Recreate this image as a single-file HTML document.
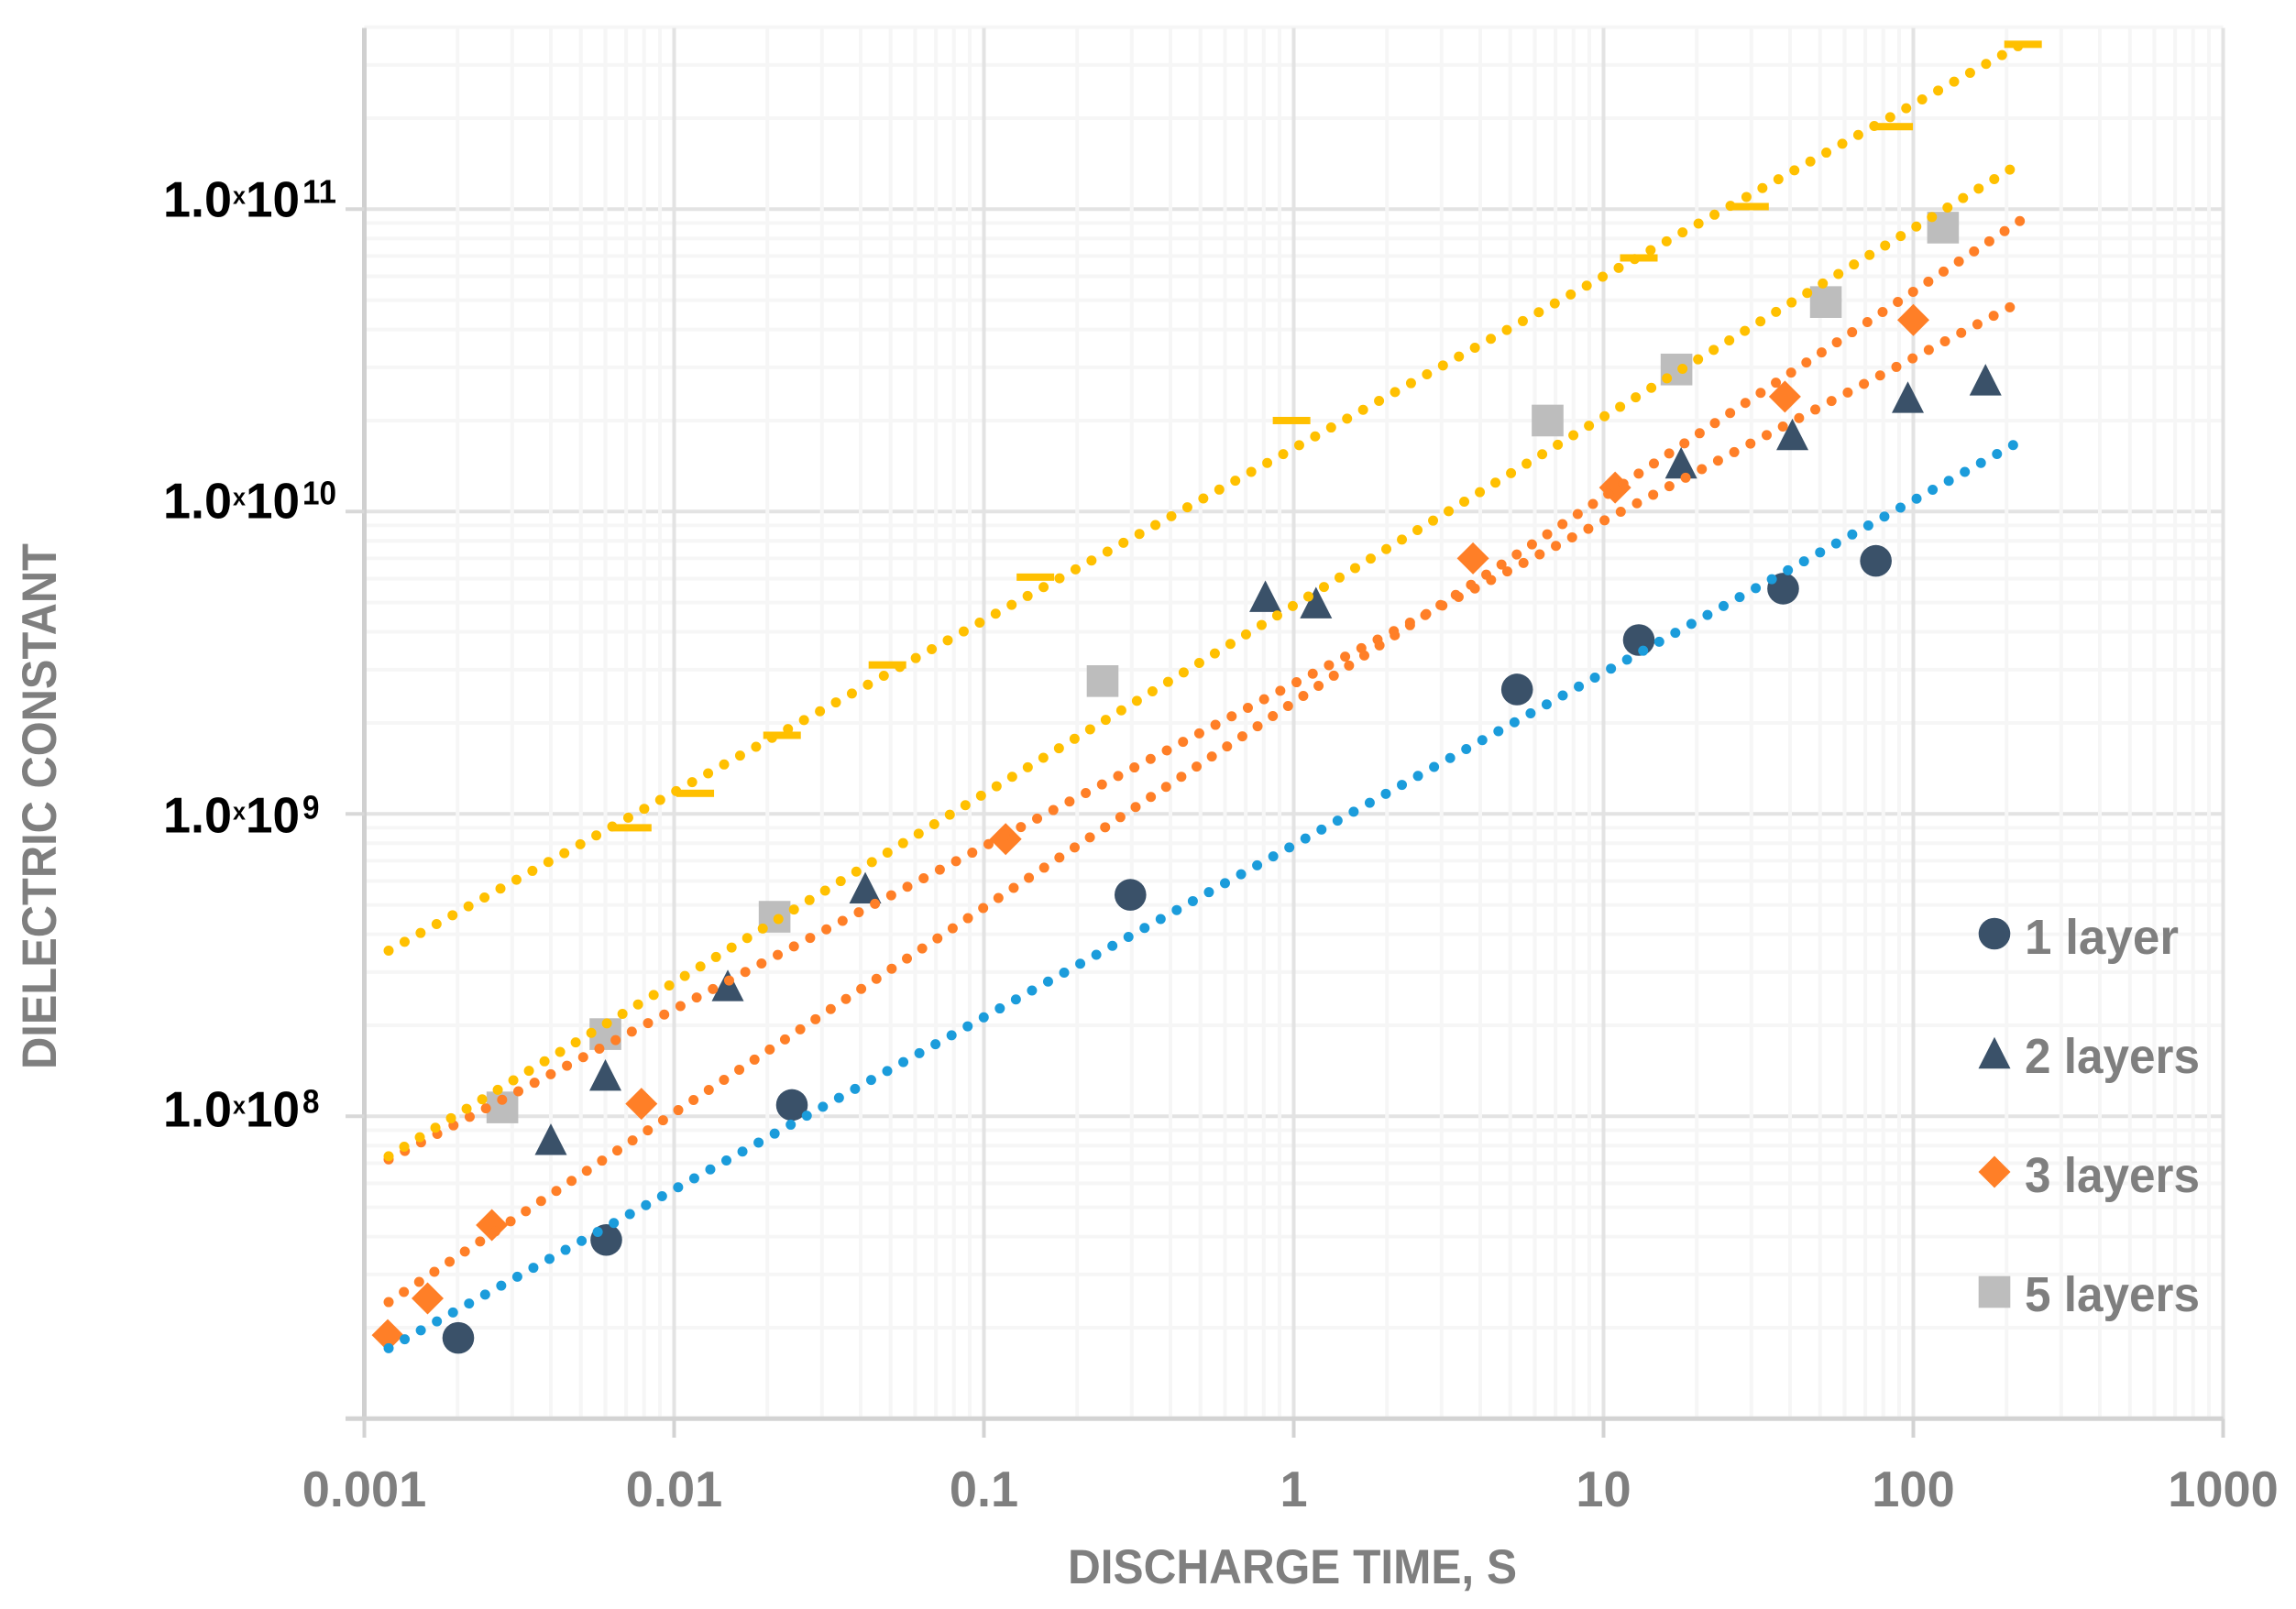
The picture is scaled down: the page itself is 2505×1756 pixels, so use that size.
<!DOCTYPE html>
<html lang="en">
<head>
<meta charset="utf-8">
<title>Dielectric constant vs discharge time</title>
<style>
html,body{margin:0;padding:0;background:#fff;}
svg{display:block;font-family:"Liberation Sans",sans-serif;}
</style>
</head>
<body>
<svg id="chart" xmlns="http://www.w3.org/2000/svg" width="2505" height="1756" viewBox="0 0 2505 1756">
  <rect x="0" y="0" width="2505" height="1756" fill="#ffffff"/>
  <g id="grid"></g>
  <g id="axes"></g>
  <g id="marks"></g>
  <g id="trends"></g>
  <g id="dashes"></g>
  <g id="legend"></g>
  <text x="1410" y="1728" text-anchor="middle" font-size="53" font-weight="700" fill="#7f7f7f" textLength="490" lengthAdjust="spacingAndGlyphs">DISCHARGE TIME, S</text>
  <text transform="translate(61,880) rotate(-90)" text-anchor="middle" font-size="53" font-weight="700" fill="#7f7f7f" textLength="574" lengthAdjust="spacingAndGlyphs">DIELECTRIC CONSTANT</text>
</svg>
<script>
// ---------- chart data ----------
const xTickValues = [0.001, 0.01, 0.1, 1, 10, 100, 1000];
const xTickLabels = ['0.001', '0.01', '0.1', '1', '10', '100', '1000'];
const yTickValues = [1e8, 1e9, 1e10, 1e11];
const yTickExponents = ['8', '9', '10', '11'];
const yMinorDecades = [1e7, 1e8, 1e9, 1e10, 1e11];
const minorMultipliers = [2, 3, 4, 5, 6, 7, 8, 9];
const xMinorDecades = [0.001, 0.01, 0.1, 1, 10, 100];

const layer1Time = [0.00201, 0.00604, 0.024, 0.297, 5.26, 13, 38, 75.7];
const layer1Value = [1.85e7, 3.9e7, 1.09e8, 5.4e8, 2.58e9, 3.76e9, 5.56e9, 6.87e9];
const layer2Time = [0.004, 0.006, 0.0149, 0.0414, 0.81, 1.18, 17.8, 40.7, 96, 171];
const layer2Value = [8.4e7, 1.37e8, 2.71e8, 5.7e8, 5.25e9, 5.0e9, 1.45e10, 1.8e10, 2.39e10, 2.73e10];
const layer3Time = [0.00119, 0.0016, 0.00258, 0.00784, 0.1175, 3.79, 10.9, 38.5, 100];
const layer3Value = [1.89e7, 2.5e7, 4.37e7, 1.1e8, 8.26e8, 7.0e9, 1.2e10, 2.4e10, 4.3e10];
const layer5Time = [0.00279, 0.006, 0.0211, 0.2416, 6.6, 17.2, 52.2, 124.7];
const layer5Value = [1.07e8, 1.87e8, 4.57e8, 2.75e9, 2.0e10, 2.95e10, 4.93e10, 8.69e10];
const dashTime = [0.00735, 0.0117, 0.0223, 0.0488, 0.1466, 0.984, 13, 29.7, 86.7, 226];
const dashValue = [9e8, 1.17e9, 1.82e9, 3.11e9, 6.07e9, 2.0e10, 6.9e10, 1.02e11, 1.875e11, 3.51e11];

const blueTrendTime = [0.001198, 210];
const blueTrendValue = [1.71e7, 1.66e10];
const orangeShallowTrendTime = [0.001198, 205];
const orangeShallowTrendValue = [7.2e7, 4.74e10];
const orangeSteepTrendTime = [0.001198, 220.8];
const orangeSteepTrendValue = [2.43e7, 9.14e10];
const yellowLowerTrendTime = [0.001198, 205];
const yellowLowerTrendValue = [7.38e7, 1.352e11];
const yellowUpperTrendTime = [0.001198, 217.8];
const yellowUpperTrendValue = [3.53e8, 3.46e11];

// ---------- axis functions ----------
function xScale(t) { return 397.5 + 338 * (Math.log10(t) + 3); }
function yScale(v) { return 1548.3 - 330 * (Math.log10(v) - 7); }

const NS = 'http://www.w3.org/2000/svg';
function make(parent, tag, attrs, text) {
  const el = document.createElementNS(NS, tag);
  for (const k in attrs) el.setAttribute(k, attrs[k]);
  if (text !== undefined) el.textContent = text;
  parent.appendChild(el);
  return el;
}
const grid = document.getElementById('grid');
const axes = document.getElementById('axes');
const marks = document.getElementById('marks');
const trends = document.getElementById('trends');
const dashes = document.getElementById('dashes');
const legend = document.getElementById('legend');
const PLOT_TOP = 30.5, PLOT_BOTTOM = 1548.3, PLOT_LEFT = 397.5, PLOT_RIGHT = 2425.5, YMAX = 4e11;

// ---------- grid: horizontal first, vertical above ----------
yMinorDecades.forEach(function (d) {
  minorMultipliers.forEach(function (m) {
    const v = d * m;
    if (v > YMAX) return;
    const el = make(grid, 'line', { x1: PLOT_LEFT, x2: PLOT_RIGHT, y1: yScale(v), y2: yScale(v), stroke: '#f6f6f6', 'stroke-width': 4 });
    
    
  });
});
yTickValues.forEach(function (v) {
  const el = make(grid, 'line', { x1: PLOT_LEFT, x2: PLOT_RIGHT, y1: yScale(v), y2: yScale(v), stroke: '#e3e3e3', 'stroke-width': 4 });
  
  
});
xMinorDecades.forEach(function (d) {
  minorMultipliers.forEach(function (m) {
    const x = xScale(d * m);
    const el = make(grid, 'line', { x1: x, x2: x, y1: PLOT_TOP, y2: PLOT_BOTTOM, stroke: '#f6f6f6', 'stroke-width': 4 });
    
    
  });
});
xTickValues.forEach(function (t) {
  const x = xScale(t);
  const el = make(grid, 'line', { x1: x, x2: x, y1: PLOT_TOP, y2: PLOT_BOTTOM, stroke: '#e3e3e3', 'stroke-width': 4 });
  
  
});

// ---------- axes ----------
const yAxisLine = make(axes, 'line', { x1: PLOT_LEFT, x2: PLOT_LEFT, y1: PLOT_TOP, y2: PLOT_BOTTOM, stroke: '#d0d0d0', 'stroke-width': 5 });


const xAxisLine = make(axes, 'line', { x1: 377, x2: PLOT_RIGHT, y1: PLOT_BOTTOM, y2: PLOT_BOTTOM, stroke: '#d3d3d3', 'stroke-width': 5 });



xTickValues.forEach(function (t, i) {
  const x = xScale(t);
  const tick = make(axes, 'line', { x1: x, x2: x, y1: PLOT_BOTTOM, y2: 1569, stroke: '#d3d3d3', 'stroke-width': 4 });
  
  
  const label = make(axes, 'text', { x: x, y: 1644, 'text-anchor': 'middle', 'font-size': 55, 'font-weight': 700, fill: '#7f7f7f' }, xTickLabels[i]);
  
  
  label.setAttribute('textLength', (label.getComputedTextLength() * 0.985).toFixed(1));
  label.setAttribute('lengthAdjust', 'spacingAndGlyphs');
});

// baseline nudges of the printed y labels relative to their ticks
const yLabelNudge = [11, 20, 7, 8];
yTickValues.forEach(function (v, i) {
  const y = yScale(v);
  const tick = make(axes, 'line', { x1: 377, x2: PLOT_LEFT, y1: y, y2: y, stroke: '#d8d8d8', 'stroke-width': 4 });
  
  
  const base = y + yLabelNudge[i];
  const g = make(axes, 'g', { fill: '#000000' });
  
  
  const mant = make(g, 'text', { x: 178, y: base, 'font-size': 55, 'font-weight': 700, textLength: 75, lengthAdjust: 'spacingAndGlyphs' }, '1.0');
  
  
  const times = make(g, 'text', { x: 254, y: base - 14, 'font-size': 27, 'font-weight': 700, textLength: 14, lengthAdjust: 'spacingAndGlyphs' }, 'x');
  
  
  const ten = make(g, 'text', { x: 268, y: base, 'font-size': 55, 'font-weight': 700, textLength: 59, lengthAdjust: 'spacingAndGlyphs' }, '10');
  
  
  const exp = make(g, 'text', { x: 330, y: base - 15, 'font-size': 36, 'font-weight': 700, textLength: yTickExponents[i].length * 18.5, lengthAdjust: 'spacingAndGlyphs' }, yTickExponents[i]);
  
  
});

// ---------- marker shapes ----------
const NAVY = '#3a5169', ORANGE = '#ff7f27', GRAY = '#bdbdbd', BLUE = '#1b9cdb', YELLOW = '#ffc000';
function circle(parent, cx, cy) { return make(parent, 'circle', { cx: cx, cy: cy, r: 17.3, fill: NAVY }); }
function triangle(parent, cx, cy) {
  return make(parent, 'polygon', { points: cx + ',' + (cy - 17.2) + ' ' + (cx + 17.5) + ',' + (cy + 17.2) + ' ' + (cx - 17.5) + ',' + (cy + 17.2), fill: NAVY });
}
function diamond(parent, cx, cy) {
  return make(parent, 'polygon', { points: cx + ',' + (cy - 17.5) + ' ' + (cx + 17.5) + ',' + cy + ' ' + cx + ',' + (cy + 17.5) + ' ' + (cx - 17.5) + ',' + cy, fill: ORANGE });
}
function square(parent, cx, cy) { return make(parent, 'rect', { x: cx - 17.3, y: cy - 17.3, width: 34.6, height: 34.6, fill: GRAY }); }

// ---------- series markers ----------
layer1Time.forEach(function (t, i) {
  const el = circle(marks, xScale(t), yScale(layer1Value[i]));
  
  
});
layer2Time.forEach(function (t, i) {
  const el = triangle(marks, xScale(t), yScale(layer2Value[i]));
  
  
});
layer3Time.forEach(function (t, i) {
  const el = diamond(marks, xScale(t), yScale(layer3Value[i]));
  
  
});
layer5Time.forEach(function (t, i) {
  const el = square(marks, xScale(t), yScale(layer5Value[i]));
  
  
});

// ---------- dotted trendlines (dot gap fitted so a dot lands on each end) ----------
function trend(times, values, color) {
  const x1 = xScale(times[0]), y1 = yScale(values[0]);
  const x2 = xScale(times[1]), y2 = yScale(values[1]);
  const len = Math.hypot(x2 - x1, y2 - y1);
  const gap = len / Math.round(len / 20);
  return make(trends, 'line', {
    x1: x1, y1: y1, x2: x2, y2: y2,
    stroke: color, 'stroke-width': 11, 'stroke-linecap': 'round',
    'stroke-dasharray': '0 ' + (gap - 0.001).toFixed(3)
  });
}
const t1 = trend(blueTrendTime, blueTrendValue, BLUE);


const t2 = trend(orangeShallowTrendTime, orangeShallowTrendValue, ORANGE);


const t3 = trend(orangeSteepTrendTime, orangeSteepTrendValue, ORANGE);


const t4 = trend(yellowLowerTrendTime, yellowLowerTrendValue, YELLOW);


const t5 = trend(yellowUpperTrendTime, yellowUpperTrendValue, YELLOW);



// ---------- dash-marker series ----------
dashTime.forEach(function (t, i) {
  const el = make(dashes, 'rect', { x: xScale(t) - 20.5, y: yScale(dashValue[i]) - 4, width: 41, height: 8, fill: YELLOW });
  
  
});

// ---------- legend ----------
const lg1 = circle(legend, 2176, 1019);


const lg2 = triangle(legend, 2176, 1149);


const lg3 = diamond(legend, 2176, 1279);


const lg4 = square(legend, 2176, 1410);



const legendStyle = { 'font-size': 54, 'font-weight': 700, fill: '#7f7f7f', lengthAdjust: 'spacingAndGlyphs' };
function legendText(y, len, label) {
  return make(legend, 'text', Object.assign({ x: 2209, y: y, textLength: len }, legendStyle), label);
}
const lt1 = legendText(1041, 168, '1 layer');


const lt2 = legendText(1171, 191, '2 layers');


const lt3 = legendText(1301, 191, '3 layers');


const lt4 = legendText(1431, 191, '5 layers');


</script>
</body>
</html>
